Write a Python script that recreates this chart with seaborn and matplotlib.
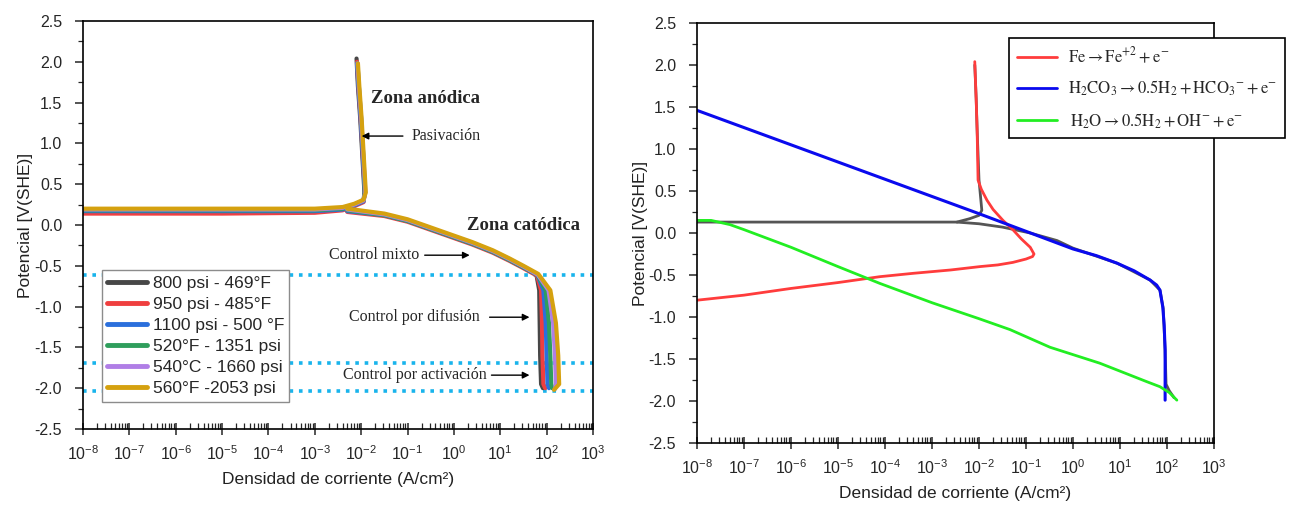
import numpy as np
import pandas as pd
import matplotlib
matplotlib.use("Agg")
import matplotlib.pyplot as plt
from matplotlib.lines import Line2D
from matplotlib.ticker import FixedLocator, FuncFormatter, MultipleLocator, NullFormatter
import seaborn as sns

# ---------------- data: left panel (log10 current density, potential) ----------------
series_left = ["800 psi - 469°F", "950 psi - 485°F", "1100 psi - 500 °F",
               "520°F - 1351 psi", "540°C - 1660 psi", "560°F -2053 psi"]
colors_left = ["#474747", "#ef3f3f", "#2b6fdc", "#2f9e5c", "#b07ee6", "#d5a10f"]

# anodic branch (plateau + passivation)
an_logi_800 = [-8, -5, -3, -2.4, -2.15, -1.95, -1.93, -1.97, -2.02, -2.07, -2.10]
an_E_800 = [0.16, 0.16, 0.17, 0.19, 0.24, 0.29, 0.40, 0.80, 1.30, 1.70, 2.04]
an_logi_950 = [-8, -5, -3, -2.4, -2.15, -1.95, -1.92, -1.96, -2.01, -2.06, -2.09]
an_E_950 = [0.14, 0.14, 0.15, 0.18, 0.23, 0.28, 0.40, 0.80, 1.30, 1.70, 2.00]
an_logi_1100 = [-8, -5, -3, -2.4, -2.15, -1.95, -1.92, -1.96, -2.01, -2.06, -2.09]
an_E_1100 = [0.17, 0.17, 0.17, 0.19, 0.24, 0.29, 0.40, 0.80, 1.30, 1.70, 1.98]
an_logi_520 = [-8, -5, -3, -2.4, -2.15, -1.95, -1.92, -1.95, -2.00, -2.05, -2.08]
an_E_520 = [0.18, 0.18, 0.18, 0.20, 0.25, 0.30, 0.40, 0.80, 1.30, 1.70, 1.98]
an_logi_540 = [-8, -5, -3, -2.4, -2.15, -1.95, -1.91, -1.95, -2.00, -2.05, -2.08]
an_E_540 = [0.19, 0.19, 0.19, 0.21, 0.25, 0.30, 0.40, 0.80, 1.30, 1.70, 1.98]
an_logi_560 = [-8, -5, -3, -2.4, -2.15, -1.95, -1.90, -1.94, -1.99, -2.04, -2.07]
an_E_560 = [0.20, 0.20, 0.20, 0.22, 0.26, 0.31, 0.40, 0.80, 1.30, 1.70, 1.98]

# cathodic branch (mixed / diffusion / activation control)
cat_logi_800 = [-2.3, -1.5, -1.0, -0.5, 0.0, 0.4, 0.84, 1.2, 1.5, 1.78, 1.84, 1.85, 1.86, 1.88, 1.92]
cat_E_800 = [0.17, 0.12, 0.05, -0.05, -0.15, -0.23, -0.33, -0.43, -0.52, -0.61, -0.80, -1.20, -1.60, -1.95, -2.00]
cat_logi_950 = [-2.3, -1.5, -1.0, -0.5, 0.0, 0.4, 0.84, 1.2, 1.5, 1.79, 1.88, 1.90, 1.91, 1.93, 1.97]
cat_E_950 = [0.16, 0.11, 0.04, -0.06, -0.16, -0.24, -0.34, -0.44, -0.53, -0.62, -0.80, -1.20, -1.60, -1.95, -2.00]
cat_logi_1100 = [-2.3, -1.5, -1.0, -0.5, 0.0, 0.4, 0.84, 1.2, 1.5, 1.80, 1.93, 1.98, 2.00, 2.02, 2.05]
cat_E_1100 = [0.17, 0.12, 0.05, -0.05, -0.15, -0.23, -0.33, -0.43, -0.52, -0.61, -0.80, -1.20, -1.60, -1.95, -2.00]
cat_logi_520 = [-2.3, -1.5, -1.0, -0.5, 0.0, 0.4, 0.84, 1.2, 1.5, 1.80, 1.98, 2.05, 2.08, 2.10, 2.12]
cat_E_520 = [0.18, 0.12, 0.05, -0.05, -0.15, -0.23, -0.33, -0.43, -0.52, -0.61, -0.80, -1.20, -1.60, -1.95, -2.00]
cat_logi_540 = [-2.3, -1.5, -1.0, -0.5, 0.0, 0.4, 0.84, 1.2, 1.5, 1.81, 2.04, 2.14, 2.18, 2.20, 2.18]
cat_E_540 = [0.19, 0.13, 0.06, -0.04, -0.14, -0.22, -0.32, -0.42, -0.51, -0.61, -0.80, -1.20, -1.60, -1.95, -2.01]
cat_logi_560 = [-2.3, -1.5, -1.0, -0.5, 0.0, 0.4, 0.84, 1.2, 1.5, 1.82, 2.08, 2.20, 2.25, 2.27, 2.16]
cat_E_560 = [0.20, 0.14, 0.07, -0.03, -0.13, -0.21, -0.31, -0.41, -0.50, -0.60, -0.80, -1.20, -1.60, -1.95, -2.02]

# dotted reference levels
levels_left = [-0.61, -1.69, -2.03]

# ---------------- data: right panel ----------------
labels_right = [r"$\mathrm{Fe} \rightarrow \mathrm{Fe}^{+2} + \mathrm{e}^{-}$",
                r"$\mathrm{H_2CO_3} \rightarrow 0.5\mathrm{H_2} + \mathrm{HCO_3}^{-} + \mathrm{e}^{-}$",
                r"$\,\mathrm{H_2O} \rightarrow 0.5\mathrm{H_2} + \mathrm{OH}^{-} + \mathrm{e}^{-}$"]
colors_right = ["#ff3c3c", "#0a0aee", "#22ee22"]

fe_logi = [-8, -7, -6, -5, -4.11, -3.4, -2.6, -1.98, -1.6, -1.28, -1.0, -0.86, -0.83, -0.91,
           -1.1, -1.28, -1.49, -1.7, -1.83, -1.95, -2.02, -2.04, -2.06, -2.09]
fe_E = [-0.80, -0.74, -0.66, -0.59, -0.52, -0.48, -0.44, -0.40, -0.38, -0.35, -0.31, -0.28, -0.25, -0.17,
        -0.07, 0.04, 0.15, 0.28, 0.39, 0.52, 0.63, 1.23, 1.58, 2.04]
h2co3_logi = [-8, -6, -4, -2, 0, 0.5, 0.94, 1.3, 1.64, 1.78, 1.85, 1.91, 1.94, 1.96, 1.96]
h2co3_E = [1.46, 1.05, 0.64, 0.23, -0.19, -0.27, -0.36, -0.45, -0.56, -0.62, -0.68, -0.88, -1.10, -1.39, -1.99]
h2o_logi = [-8, -7.7, -7.3, -7, -6, -5, -4.11, -3, -2, -1.34, -0.49, 0.57, 1.57, 1.85, 2.05, 2.21]
h2o_E = [0.15, 0.15, 0.10, 0.04, -0.17, -0.40, -0.60, -0.83, -1.02, -1.15, -1.36, -1.55, -1.77, -1.83, -1.90, -1.99]

exp_an_logi = [-8, -5, -3, -2.47, -2.2, -2.0, -1.94, -2.0, -2.04, -2.06, -2.09]
exp_an_E = [0.13, 0.13, 0.13, 0.13, 0.17, 0.21, 0.27, 0.63, 1.23, 1.60, 2.00]
exp_cat_logi = [-2.47, -2.0, -1.5, -0.91, -0.34, 0.0, 0.94, 1.64, 1.85, 1.92, 1.96, 1.98, 2.05, 2.15]
exp_cat_E = [0.13, 0.11, 0.07, 0.0, -0.09, -0.18, -0.36, -0.56, -0.68, -0.90, -1.40, -1.80, -1.88, -1.96]

# ---------------- build tables ----------------
an_logi = [an_logi_800, an_logi_950, an_logi_1100, an_logi_520, an_logi_540, an_logi_560]
an_E = [an_E_800, an_E_950, an_E_1100, an_E_520, an_E_540, an_E_560]
cat_logi = [cat_logi_800, cat_logi_950, cat_logi_1100, cat_logi_520, cat_logi_540, cat_logi_560]
cat_E = [cat_E_800, cat_E_950, cat_E_1100, cat_E_520, cat_E_540, cat_E_560]
rows = []
for s, al, ae, cl, ce in zip(series_left, an_logi, an_E, cat_logi, cat_E):
    for k, (l, e) in enumerate(zip(al, ae)):
        rows.append(dict(serie=s, rama="a", orden=k, i=10.0 ** l, E=e))
    for k, (l, e) in enumerate(zip(cl, ce)):
        rows.append(dict(serie=s, rama="c", orden=k, i=10.0 ** l, E=e))
df_left = pd.DataFrame(rows)

# ---------------- style ----------------
sns.set_style("ticks")
plt.rcParams["font.family"] = ["Liberation Sans", "DejaVu Sans"]
plt.rcParams["mathtext.fontset"] = "custom"
plt.rcParams["mathtext.rm"] = "Liberation Sans"
plt.rcParams["mathtext.it"] = "Liberation Sans:italic"
plt.rcParams["mathtext.bf"] = "Liberation Sans:bold"
plt.rcParams["axes.unicode_minus"] = False
plt.rcParams["axes.edgecolor"] = "black"
plt.rcParams["axes.linewidth"] = 1.2

fig = plt.figure(figsize=(12.99, 5.07), dpi=100)
ax1 = fig.add_axes([83 / 1299, 1 - 429 / 507, 510 / 1299, 408 / 507])
ax2 = fig.add_axes([697 / 1299, 1 - 443 / 507, 517 / 1299, 420 / 507])

for ax in (ax1, ax2):
    ax.set_xscale("log")

# left curves
sns.lineplot(data=df_left, x="i", y="E", hue="serie", units="rama", estimator=None, sort=False,
             hue_order=series_left, palette=colors_left, linewidth=3.0, legend=False, ax=ax1)
for lv in levels_left:
    ax1.axhline(lv, color="#19b4ec", lw=2.6, ls=(0, (1, 1.6)), zorder=1)

handles = [Line2D([], [], color=c, lw=3.5) for c in colors_left]
leg1 = ax1.legend(handles, series_left, loc="upper left", bbox_to_anchor=(0.037, 0.389),
                  borderaxespad=0, fontsize=12.5, frameon=True, fancybox=False, framealpha=1,
                  edgecolor="#8c8c8c", handlelength=2.3, handletextpad=0.3, labelspacing=0.34,
                  borderpad=0.32)
leg1.get_frame().set_linewidth(1.0)

serif = ["Liberation Serif", "DejaVu Serif"]
ax1.text(10 ** -0.61, 1.55, "Zona anódica", fontsize=13.5, fontweight="bold", family=serif,
         ha="center", va="center")
ax1.text(10 ** 1.50, 0.0, "Zona catódica", fontsize=13.5, fontweight="bold", family=serif,
         ha="center", va="center")
ax1.text(10 ** -0.91, 1.09, "Pasivación", fontsize=11.5, family=serif, ha="left", va="center")
ax1.text(10 ** -0.74, -0.37, "Control mixto", fontsize=11.5, family=serif, ha="right", va="center")
ax1.text(10 ** 0.56, -1.13, "Control por difusión", fontsize=11.5, family=serif, ha="right", va="center")
ax1.text(10 ** 0.71, -1.84, "Control por activación", fontsize=11.5, family=serif, ha="right", va="center")
arrow_kw = dict(arrowstyle="-|>", color="black", lw=1.0, mutation_scale=10, shrinkA=0, shrinkB=0)
for (x0, x1, y) in [(-1.10, -1.99, 1.09), (-0.63, 0.34, -0.37), (0.77, 1.63, -1.13), (0.81, 1.63, -1.84)]:
    ax1.annotate("", xy=(10 ** x1, y), xytext=(10 ** x0, y), arrowprops=arrow_kw)

# right curves
line_kw = dict(sort=False, estimator=None, ax=ax2)
sns.lineplot(x=[10.0 ** v for v in exp_an_logi], y=exp_an_E, color="#555555", lw=2.0, **line_kw)
sns.lineplot(x=[10.0 ** v for v in exp_cat_logi], y=exp_cat_E, color="#555555", lw=2.0, **line_kw)
sns.lineplot(x=[10.0 ** v for v in fe_logi], y=fe_E, color=colors_right[0], lw=2.0, **line_kw)
sns.lineplot(x=[10.0 ** v for v in h2co3_logi], y=h2co3_E, color=colors_right[1], lw=2.2, **line_kw)
sns.lineplot(x=[10.0 ** v for v in h2o_logi], y=h2o_E, color=colors_right[2], lw=2.0, **line_kw)

handles2 = [Line2D([], [], color=c, lw=2.0) for c in colors_right]
leg2 = ax2.legend(handles2, labels_right, loc="upper left", bbox_to_anchor=(1009 / 1299, 1 - 38 / 507),
                  bbox_transform=fig.transFigure, borderaxespad=0, fontsize=12, frameon=True,
                  fancybox=False, framealpha=1, edgecolor="black", handlelength=2.4,
                  handletextpad=0.7, labelspacing=0.78, borderpad=0.45)
leg2.get_frame().set_linewidth(1.2)
for t in leg2.get_texts():
    t.set_math_fontfamily("stix")

# axes formatting
decades = [10.0 ** k for k in range(-8, 4)]
minors = [m * 10.0 ** k for k in range(-8, 3) for m in range(2, 10)]
for ax, ylab_x, xlab_y in [(ax1, -0.098, -0.105), (ax2, -0.095, -0.102)]:
    ax.set_xlim(1e-8, 1e3)
    ax.set_ylim(-2.5, 2.5)
    ax.xaxis.set_major_locator(FixedLocator(decades))
    ax.xaxis.set_major_formatter(FuncFormatter(lambda v, p: r"$10^{%d}$" % int(round(np.log10(v)))))
    ax.xaxis.set_minor_locator(FixedLocator(minors))
    ax.xaxis.set_minor_formatter(NullFormatter())
    ax.yaxis.set_major_locator(MultipleLocator(0.5))
    ax.yaxis.set_minor_locator(MultipleLocator(0.25))
    ax.yaxis.set_major_formatter(FuncFormatter(lambda v, p: "%.1f" % v))
    ax.tick_params(axis="x", which="major", direction="inout", length=8, width=1.1, labelsize=11.5, pad=7)
    ax.tick_params(axis="x", which="minor", direction="in", length=4, width=0.9)
    ax.tick_params(axis="y", which="major", direction="out", length=6, width=1.1, labelsize=11.5, pad=9)
    ax.tick_params(axis="y", which="minor", direction="out", length=3.5, width=0.9)
    ax.tick_params(top=False, right=False, which="both")
    for sp in ax.spines.values():
        sp.set_visible(True)
        sp.set_color("black")
        sp.set_linewidth(1.2)
    ax.set_xlabel("Densidad de corriente (A/cm²)", fontsize=12.5, color="#222222")
    ax.set_ylabel("Potencial [V(SHE)]", fontsize=12.5, color="#222222")
    ax.xaxis.set_label_coords(0.5, xlab_y)
    ax.yaxis.set_label_coords(ylab_x, 0.5)

fig.savefig("out.png", dpi=100)
